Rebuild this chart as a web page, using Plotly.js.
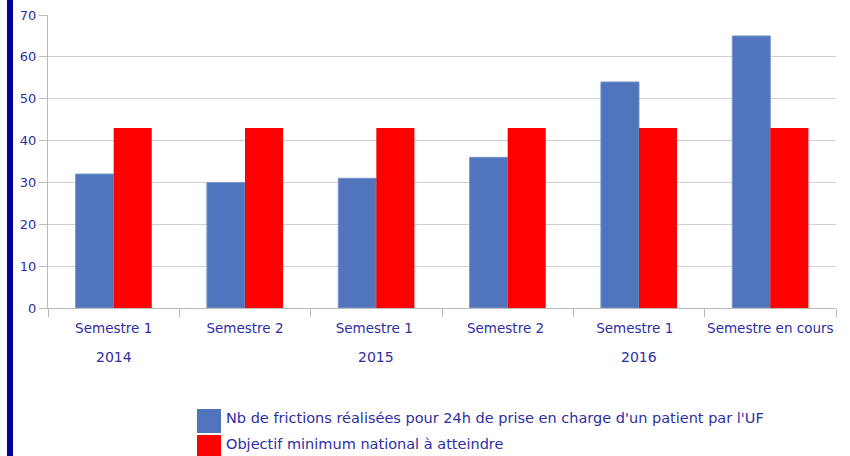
<!DOCTYPE html>
<html>
<head>
<meta charset="utf-8">
<script src="https://cdn.plot.ly/plotly-3.0.1.min.js"></script>
<style>
html,body{margin:0;padding:0;background:#fff;}
#bar{position:absolute;left:7px;top:0;width:6px;height:456px;background:#0000a0;}
#chart{position:absolute;left:0;top:0;width:850px;height:456px;}
</style>
</head>
<body>
<div id="chart"></div>
<div id="bar"></div>
<script>
const categories = ["Semestre 1", "Semestre 2", "Semestre 1 ", "Semestre 2 ", "Semestre 1  ", "Semestre en cours"];
const years = ["2014", "2015", "2016"];
const yearCategories = ["Semestre 1", "Semestre 1 ", "Semestre 1  "];
const frictions = [32, 30, 31, 36, 54, 65];
const objectif = [43, 43, 43, 43, 43, 43];
const seriesNames = ["Nb de frictions réalisées pour 24h de prise en charge d'un patient par l'UF", "Objectif minimum national à atteindre"];
const seriesColors = ["#5075bc", "#ff0000"];

const textColor = "#2e2ea6";
const fontFam = "DejaVu Sans, Verdana, sans-serif";

const traces = [
  {type: "bar", x: categories, y: frictions, name: seriesNames[0], showlegend: false,
   marker: {color: seriesColors[0], line: {color: "#7a98d0", width: 1}}},
  {type: "bar", x: categories, y: objectif, name: seriesNames[1], showlegend: false,
   marker: {color: seriesColors[1]}}
];

const annotations = years.map((yr, i) => ({
  x: yearCategories[i], y: 0, xref: "x", yref: "y", yshift: -49,
  text: yr, showarrow: false, font: {family: fontFam, size: 14, color: textColor}
}));

// custom legend (pixel -> paper conversion)
const plotL = 48, plotW = 850 - 48 - 14, plotT = 15, plotH = 456 - 15 - 148;
const px = v => (v - plotL) / plotW;
const py = v => 1 - (v - plotT) / plotH;
const legendRows = [[409, 433], [435, 459]];
const legendTextY = [418, 444];
const shapes = [];
seriesNames.forEach((n, i) => {
  const [t, b] = legendRows[i];
  shapes.push({type: "rect", xref: "paper", yref: "paper", x0: px(197), x1: px(221),
               y0: py(b), y1: py(t), fillcolor: seriesColors[i], line: {width: 0}});
  annotations.push({xref: "paper", yref: "paper", x: px(224), y: py(legendTextY[i]),
                    xanchor: "left", yanchor: "middle", showarrow: false, text: n,
                    font: {family: fontFam, size: 14.5, color: textColor}});
});

const layout = {
  width: 850, height: 456,
  margin: {l: 48, r: 14, t: 15, b: 148},
  paper_bgcolor: "#fff", plot_bgcolor: "#fff",
  bargap: 0.42, bargroupgap: 0,
  barmode: "group",
  font: {family: fontFam, size: 12, color: textColor},
  showlegend: false,
  xaxis: {type: "category", tickson: "boundaries", ticks: "outside", ticklen: 8,
          tickcolor: "#bbbbbb", showgrid: false, tickangle: 0, automargin: false,
          showline: true, linecolor: "#bbbbbb", linewidth: 1, ticklabelstandoff: 8,
          tickfont: {family: fontFam, size: 13.5, color: textColor}, fixedrange: true},
  yaxis: {range: [0, 70], dtick: 10, ticks: "outside", ticklen: 8, tickcolor: "#bbbbbb",
          showgrid: true, gridcolor: "#d0d0d0", gridwidth: 1,
          showline: true, linecolor: "#bbbbbb", zeroline: false,
          tickfont: {family: fontFam, size: 13, color: textColor}},
  shapes: shapes,
  annotations: annotations
};

Plotly.newPlot("chart", traces, layout, {displayModeBar: false, staticPlot: true});
</script>
</body>
</html>
